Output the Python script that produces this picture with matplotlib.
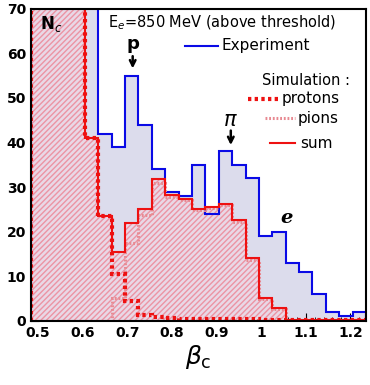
import numpy as np
import matplotlib.pyplot as plt

plt.rcParams['hatch.linewidth'] = 1.0

# 25 bins of width 0.03 between 0.485 and 1.235
edges = np.round(np.linspace(0.485, 1.235, 26), 3)

# bins left of 0.635 are off scale (> 70)
experiment = [100, 100, 100, 100, 100, 42, 39, 55, 44, 34, 29, 28, 35, 24, 38,
              35, 32, 19, 20, 13, 11, 6, 2, 1, 2]
protons = [100, 100, 100, 100, 41, 23.5, 10.5, 4.5, 1.2, 0.8, 0.5, 0.3, 0.3, 0.3,
           0.3, 0.3, 0.3, 0.2, 0.2, 0.2, 0.2, 0.2, 0.2, 0.2, 0.2]
pions = [0, 0, 0, 0, 0, 0, 5, 17.5, 23.8, 31, 27.8, 27.1, 24.8, 25.2, 26,
         22.2, 13.7, 4.8, 2.6, 0, 0, 0, 0, 0, 0]
total = np.array(protons) + np.array(pions)

blue = '#0a0ae6'
red = '#ee1111'

fig = plt.figure(figsize=(3.7, 3.85), dpi=100)
ax = fig.add_axes([0.085, 0.167, 0.904, 0.810])

# fills
ax.stairs(experiment, edges, fill=True, facecolor='#dcdcec', edgecolor='none', zorder=1)
ax.stairs(total, edges, fill=True, facecolor='#e9d8e6', hatch='//////',
          edgecolor='#ec94a4', linewidth=0, zorder=2)

# outlines
ax.stairs(experiment, edges, color=blue, lw=1.5, zorder=3)
ax.stairs(pions, edges, color='#e88a92', lw=2.2, ls=(0, (0.6, 0.6)), zorder=4)
ax.stairs(total, edges, color=red, lw=1.5, zorder=5)
ax.stairs(protons, edges, color=red, lw=3, ls=(0, (0.8, 0.8)), zorder=6)

ax.set_xlim(0.485, 1.235)
ax.set_ylim(0, 70)
ax.set_xticks([0.5, 0.6, 0.7, 0.8, 0.9, 1.0, 1.1, 1.2])
ax.set_xticklabels(['0.5', '0.6', '0.7', '0.8', '0.9', '1', '1.1', '1.2'])
ax.set_xticks(np.arange(0.5, 1.23, 0.02), minor=True)
ax.set_yticks(range(0, 71, 10))
ax.set_yticks(range(0, 71, 2), minor=True)
ax.tick_params(which='both', direction='in', top=False, right=False)
ax.tick_params(which='major', length=6, width=0.8, labelsize=10, pad=4)
ax.tick_params(which='minor', length=3, width=0.6)
for lab in ax.get_xticklabels() + ax.get_yticklabels():
    lab.set_fontweight('bold')
for s in ax.spines.values():
    s.set_linewidth(1.5)
    s.set_zorder(10)

ax.set_xlabel(r'$\beta_{\rm c}$', fontsize=18, labelpad=2)

# texts
ax.text(0.025, 0.952, r'N$_c$', transform=ax.transAxes, fontsize=12,
        fontweight='bold', va='center', zorder=11)
ax.text(0.23, 0.955, r'E$_e$=850 MeV (above threshold)', transform=ax.transAxes,
        fontsize=10.5, va='center', zorder=11)

ax.plot([0.459, 0.558], [0.881, 0.881], color=blue, lw=1.5, transform=ax.transAxes)
ax.text(0.569, 0.881, 'Experiment', transform=ax.transAxes, fontsize=11, va='center')
ax.text(0.689, 0.770, 'Simulation :', transform=ax.transAxes, fontsize=10.5, va='center')
ax.plot([0.647, 0.743], [0.711, 0.711], color=red, lw=3, ls=(0, (0.8, 0.8)),
        transform=ax.transAxes)
ax.text(0.748, 0.711, 'protons', transform=ax.transAxes, fontsize=11, va='center')
ax.plot([0.699, 0.788], [0.649, 0.649], color='#e88a92', lw=2.2, ls=(0, (0.6, 0.6)),
        transform=ax.transAxes)
ax.text(0.797, 0.649, 'pions', transform=ax.transAxes, fontsize=11, va='center')
ax.plot([0.713, 0.788], [0.569, 0.569], color=red, lw=1.5, transform=ax.transAxes)
ax.text(0.803, 0.569, 'sum', transform=ax.transAxes, fontsize=11, va='center')

# particle markers
ax.text(0.712, 62, 'p', fontsize=13, fontweight='bold', ha='center', va='center', zorder=11)
ax.annotate('', xy=(0.712, 56), xytext=(0.712, 60),
            arrowprops=dict(arrowstyle='->', lw=1.8, color='black'), zorder=11)
ax.text(0.932, 45, r'$\pi$', fontsize=15, fontweight='bold', ha='center', va='center', zorder=11)
ax.annotate('', xy=(0.932, 38.8), xytext=(0.932, 43.3),
            arrowprops=dict(arrowstyle='->', lw=1.8, color='black'), zorder=11)
ax.text(1.056, 23, 'e', fontsize=14, family='DejaVu Serif', fontweight='bold',
        style='italic', ha='center', va='center', zorder=11)

fig.savefig('out.png', dpi=100)
